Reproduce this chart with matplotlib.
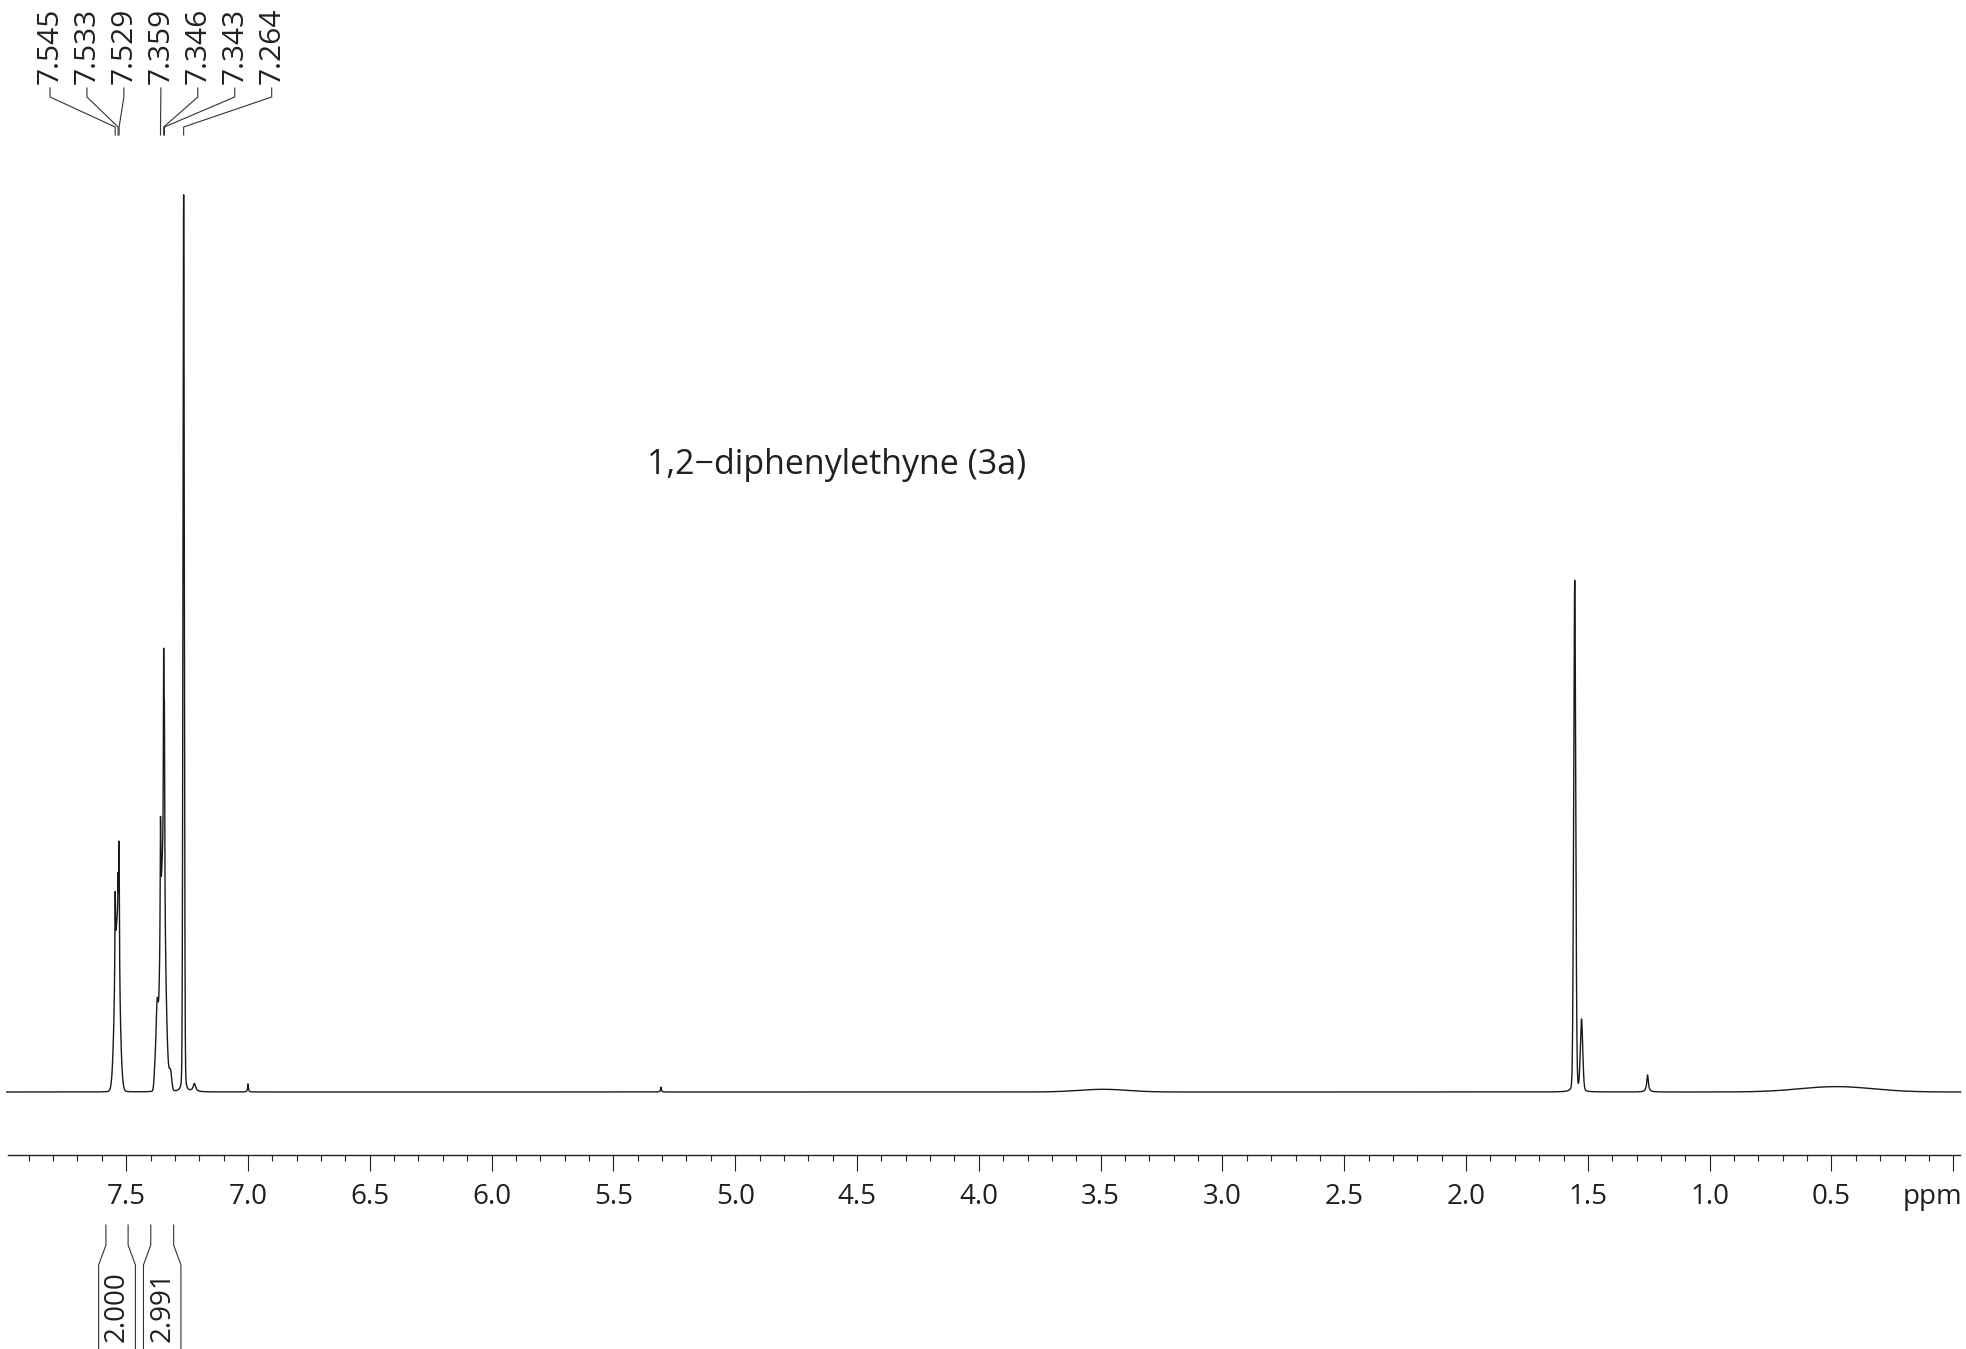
import numpy as np
import matplotlib
matplotlib.use("Agg")
import matplotlib.pyplot as plt
from matplotlib.lines import Line2D

plt.rcParams['font.family'] = ['Open Sans', 'DejaVu Sans']

# ---------------- data ----------------
title = "1,2\u2212diphenylethyne (3a)"

# Gaussian components: centre (ppm), height (rel. units, CHCl3 = 100), sigma (ppm)
gau_ppm    = [7.537, 7.350, 7.373, 7.381, 7.318, 7.264, 1.554, 1.526, 3.49, 0.48]
gau_height = [18.0, 24.0, 7.0, 2.5, 2.0, 88.0, 50.0, 6.5, 0.3, 0.6]
gau_sigma  = [0.010, 0.011, 0.004, 0.004, 0.005, 0.0028, 0.0042, 0.005, 0.10, 0.15]

# Lorentzian components: centre (ppm), height, FWHM (ppm)
lor_ppm    = [7.545, 7.533, 7.529, 7.359, 7.346, 7.343, 7.264, 1.554, 1.526, 7.220, 7.000, 5.305, 1.255]
lor_height = [9.0, 6.0, 14.0, 13.0, 23.0, 19.0, 12.0, 7.0, 1.5, 0.9, 0.9, 0.55, 1.9]
lor_fwhm   = [0.003, 0.003, 0.003, 0.003, 0.003, 0.003, 0.006, 0.008, 0.010, 0.012, 0.004, 0.004, 0.008]

peak_labels = [7.545, 7.533, 7.529, 7.359, 7.346, 7.343, 7.264]

integral_ranges = [(7.583, 7.492), (7.399, 7.305)]
integral_values = ["2.000", "2.991"]

major_ticks = [7.5, 7.0, 6.5, 6.0, 5.5, 5.0, 4.5, 4.0, 3.5, 3.0, 2.5, 2.0, 1.5, 1.0, 0.5, 0.0]
major_labels = ["7.5", "7.0", "6.5", "6.0", "5.5", "5.0", "4.5", "4.0", "3.5", "3.0",
                "2.5", "2.0", "1.5", "1.0", "0.5", ""]
unit_label = "ppm"

# ---------------- spectrum ----------------
x = np.linspace(7.99, -0.03, 60000)
y = np.zeros_like(x)
for c, h, s in zip(gau_ppm, gau_height, gau_sigma):
    y += h * np.exp(-(x - c) ** 2 / (2 * s ** 2))
for c, h, w in zip(lor_ppm, lor_height, lor_fwhm):
    hw = w / 2
    y += h * hw ** 2 / ((x - c) ** 2 + hw ** 2)

# ---------------- figure ----------------
W, H = 1966, 1349
DPI = 100
fig = plt.figure(figsize=(W / DPI, H / DPI), dpi=DPI)
fig.patch.set_facecolor("white")

def fx(px):
    return px / W

def fy(py):
    return 1 - py / H

ax_left, ax_right = 8, 1960
ax_bottom, ax_top = 1155, 150
ax = fig.add_axes([fx(ax_left), fy(ax_bottom), (ax_right - ax_left) / W, (ax_bottom - ax_top) / H])
ax.set_xlim(7.985, -0.0275)
px_per_unit = 8.97
base_px = 1092
ax.set_ylim(-(ax_bottom - base_px) / px_per_unit, (base_px - ax_top) / px_per_unit)

TXT = "#231f20"
ax.plot(x, y, color="#1a1a1a", lw=1.0, clip_on=False)

for s in ["left", "right", "top"]:
    ax.spines[s].set_visible(False)
ax.spines["bottom"].set_color(TXT)
ax.spines["bottom"].set_linewidth(1.0)
ax.set_yticks([])
ax.set_xticks(major_ticks)
ax.set_xticklabels(major_labels)
ax.set_xticks(np.round(np.arange(0.0, 7.95, 0.1), 1), minor=True)
pad_pt = 9
ax.tick_params(axis="x", which="major", direction="out", length=11.5, width=0.8,
               color=TXT, labelsize=20, labelcolor=TXT, pad=pad_pt)
ax.tick_params(axis="x", which="minor", direction="out", length=4, width=0.8, color=TXT)

# unit label
tick_end_px = ax_bottom + 11.5 * DPI / 72 + pad_pt * DPI / 72
fig.text(fx(1962), fy(tick_end_px), unit_label, ha="right", va="top", fontsize=20, color=TXT)

# title
fig.text(fx(837), fy(474), title, ha="center", va="baseline", fontsize=24.5, color=TXT)

# ---------------- helpers ----------------
def ppm_to_px(p):
    xd, _ = ax.transData.transform((p, 0))
    return xd  # display x equals image x

def fig_line(xs, ys, **kw):
    fig.add_artist(Line2D([fx(v) for v in xs], [fy(v) for v in ys],
                          transform=fig.transFigure, **kw))

LINE_KW = dict(color="#333333", lw=0.8)

# peak labels at top
label_x0, label_dx = 50.0, 36.95
for i, p in enumerate(peak_labels):
    lx = label_x0 + i * label_dx
    px = ppm_to_px(p)
    fig.text(fx(lx), fy(84), f"{p:.3f}", rotation=90, ha="center", va="bottom",
             fontsize=21.5, color=TXT)
    fig_line([lx, lx, px, px], [88, 97, 127, 135], **LINE_KW)

# integrals below axis
for (hi, lo), val in zip(integral_ranges, integral_values):
    xl = ppm_to_px(hi)
    xr = ppm_to_px(lo)
    fig_line([xl, xl, xl - 7.3, xl - 7.3], [1225, 1245, 1265, 1352], **LINE_KW)
    fig_line([xr, xr, xr + 7.3, xr + 7.3], [1225, 1245, 1265, 1352], **LINE_KW)
    fig.text(fx((xl + xr) / 2), fy(1271), val, rotation=90, ha="center", va="top",
             fontsize=20, color=TXT)

fig.savefig("out.png", dpi=DPI, facecolor="white")
